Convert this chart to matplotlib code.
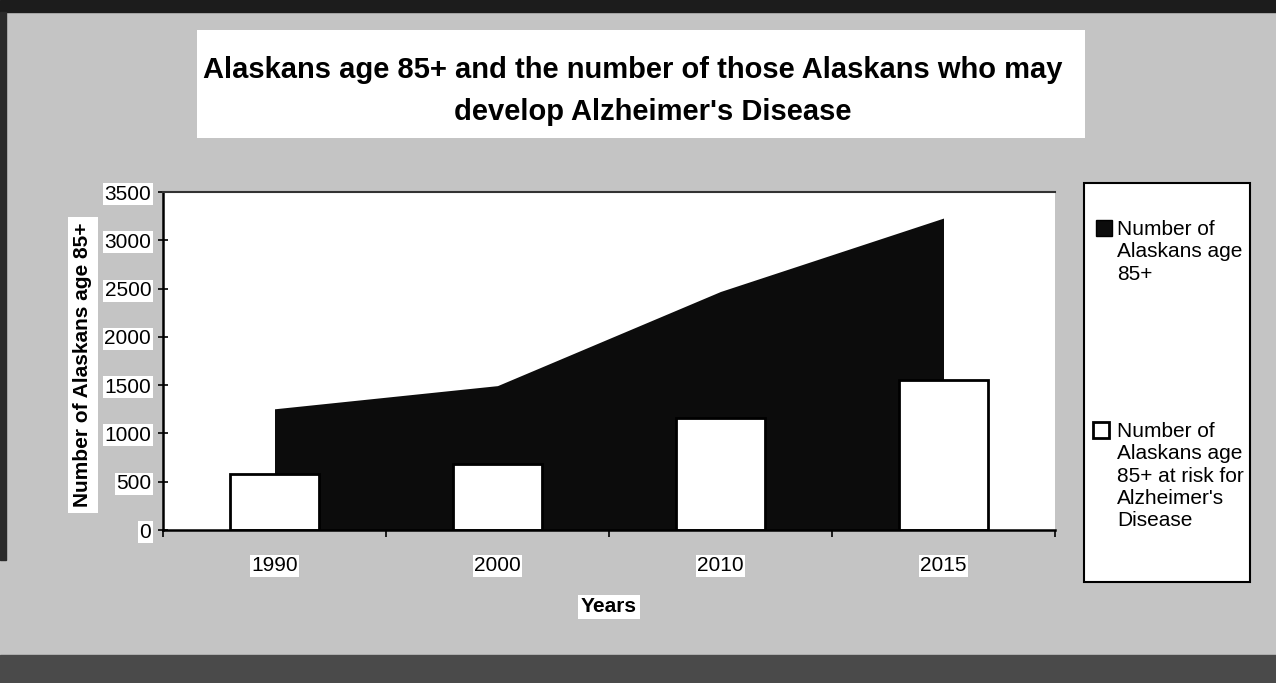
import numpy as np
import matplotlib
matplotlib.use('Agg')
import matplotlib.pyplot as plt
from matplotlib.patches import Rectangle

plt.rcParams['font.family'] = ['Liberation Sans', 'DejaVu Sans']

# data
years = ['1990', '2000', '2010', '2015']
age85 = [1255, 1495, 2470, 3230]          # Number of Alaskans age 85+ (area)
at_risk = [585, 680, 1160, 1555]          # at risk for Alzheimer's (bars)
yticks = [0, 500, 1000, 1500, 2000, 2500, 3000, 3500]

title1 = 'Alaskans age 85+ and the number of those Alaskans who may'
title2 = "develop Alzheimer's Disease"
leg1 = 'Number of\nAlaskans age\n85+'
leg2 = "Number of\nAlaskans age\n85+ at risk for\nAlzheimer's\nDisease"

W, H = 1276, 683

def px(x, y):
    # pixel position -> figure fraction
    return x / W, 1 - y / H

fig = plt.figure(figsize=(W / 100, H / 100), dpi=100, facecolor='#c4c4c4')

# scan edges
fig.patches.append(Rectangle(px(0, 12), 1, 12 / H, transform=fig.transFigure, color='#1c1c1c', zorder=0))
fig.patches.append(Rectangle(px(0, 683), 1, 28 / H, transform=fig.transFigure, color='#4a4a4a', zorder=0))
fig.patches.append(Rectangle(px(0, 560), 6 / W, 548 / H, transform=fig.transFigure, color='#2a2a2a', zorder=0))

# title box
fig.patches.append(Rectangle(px(197, 138), (1085 - 197) / W, 108 / H, transform=fig.transFigure,
                             facecolor='white', edgecolor='none', zorder=0))
fig.text(*px(203, 70), title1, ha='left', va='center', fontsize=21, fontweight='bold')
fig.text(*px(653, 112), title2, ha='center', va='center', fontsize=21, fontweight='bold')

# plot area
l, b = px(163, 530)
ax = fig.add_axes([l, b, 892 / W, 338 / H], facecolor='white')
x = np.arange(len(years))

ax.fill_between(x, age85, 0, color='#0c0c0c', linewidth=0, zorder=1)
ax.bar(x, at_risk, 0.4, facecolor='white', edgecolor='black', linewidth=2, zorder=2)

ax.set_xlim(-0.5, len(years) - 0.5)
ax.set_ylim(0, 3500)
ax.set_yticks(yticks)
ax.set_xticks(np.arange(len(years) + 1) - 0.5)
ax.set_xticklabels([])
ax.set_xticks(x, minor=True)
ax.set_xticklabels(years, minor=True)

ax.tick_params(axis='x', which='major', direction='out', length=5, width=1.2)
ax.tick_params(axis='x', which='minor', length=0, pad=19, labelsize=15)
ax.tick_params(axis='y', direction='inout', length=7, width=1.2, pad=5, labelsize=15)

for lab in ax.get_yticklabels() + ax.get_xticklabels(minor=True):
    lab.set_bbox(dict(facecolor='white', edgecolor='none', pad=1))

for s in ['left', 'bottom']:
    ax.spines[s].set_linewidth(1.8)
ax.spines['top'].set_linewidth(1.5)
ax.spines['top'].set_color('#333333')
ax.spines['right'].set_visible(False)

ax.set_ylabel('Number of Alaskans age 85+', fontsize=15, fontweight='bold',
              bbox=dict(facecolor='white', edgecolor='none', pad=4))
ax.yaxis.label.set_va('center')
ax.yaxis.set_label_coords((83 - 163) / 892, (530 - 365) / 338)
ax.set_xlabel('Years', fontsize=15, fontweight='bold',
              bbox=dict(facecolor='white', edgecolor='none', pad=2))
ax.xaxis.label.set_va('center')
ax.xaxis.set_label_coords(0.5, (530 - 607) / 338)

# legend box
fig.patches.append(Rectangle(px(1084, 582), (1250 - 1084) / W, (582 - 183) / H, transform=fig.transFigure,
                             facecolor='white', edgecolor='black', linewidth=1.5, zorder=1))
fig.patches.append(Rectangle(px(1096, 236), 16 / W, 16 / H, transform=fig.transFigure,
                             facecolor='#0c0c0c', edgecolor='black', linewidth=1, zorder=2))
fig.text(*px(1117, 220), leg1, ha='left', va='top', fontsize=15, linespacing=1.22, zorder=3)
fig.patches.append(Rectangle(px(1093, 438), 16 / W, 16 / H, transform=fig.transFigure,
                             facecolor='white', edgecolor='black', linewidth=2, zorder=2))
fig.text(*px(1117, 422), leg2, ha='left', va='top', fontsize=15, linespacing=1.22, zorder=3)

fig.savefig('out.png', dpi=100, facecolor=fig.get_facecolor())
